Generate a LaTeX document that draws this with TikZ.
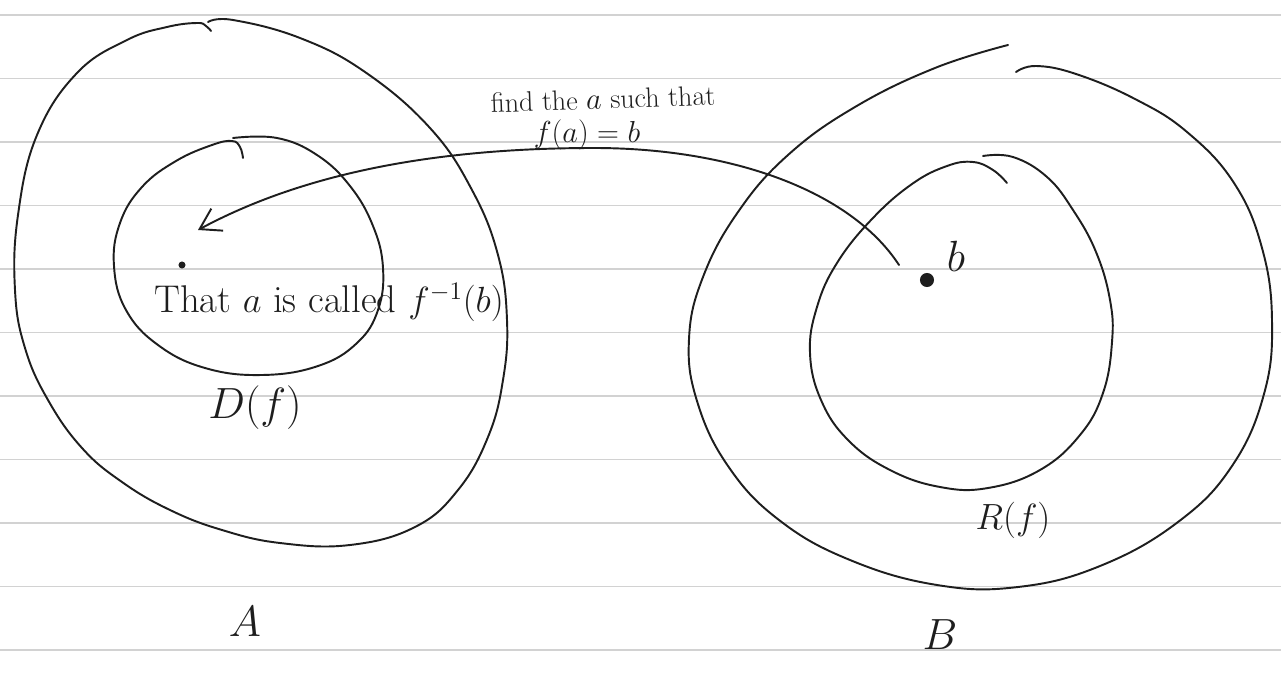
\documentclass[tikz,border=0pt]{standalone}
\usetikzlibrary{arrows.meta}
\definecolor{cink}{HTML}{1E1E1E}
\definecolor{cruled}{HTML}{D2D2D2}
\tikzset{
  pen/.style={draw=cink, line width=1.1pt, line cap=round, line join=round},
  ruled/.style={draw=cruled, line width=0.9pt},
  arrow/.style={pen, -{Straight Barb[length=4mm, width=5mm]}},
  hand/.style={text=cink, inner sep=0pt, font=\fontsize{#1}{#1}\selectfont},
  hand/.default=20,
  inkdot/.style={circle, fill=cink, inner sep=0pt, minimum size=#1},
}

\begin{document}
\begin{tikzpicture}[x=0.02cm, y=-0.02cm]
  \useasboundingbox (0,0) rectangle (1281,679);
  \fill[white] (0,0) rectangle (1281,679);
  % ruled paper
  \foreach \k in {0,...,10} {
    \draw[ruled] (0,15+63.5*\k) -- (1281,15+63.5*\k);
  }
  % set A and D(f)
  \draw[pen] plot[smooth, tension=0.7] coordinates {(208,22) (233,20) (300,38) (365,72) (430,128) (472,190) (498,255) (507,320) (503,380) (488,437) (458,490) (415,527) (350,545) (280,543) (222,530) (170,510) (122,482) (82,448) (48,400) (25,348) (15,290) (18,215) (37,135) (77,73) (127,40) (167,27) (197,23) (206,26) (211,31)};
  \draw[pen] plot[smooth, tension=0.7] coordinates {(233,138) (277,138) (317,155) (350,186) (373,226) (383,268) (378,310) (357,343) (318,366) (262,375) (205,368) (158,345) (126,310) (114,266) (120,223) (142,187) (176,161) (212,145) (232,141) (240,147) (243,158)};
  % set B and R(f)
  \draw[pen] plot[smooth, tension=0.7] coordinates {(1016,72) (1036,66) (1076,74) (1135,99) (1187,132) (1234,183) (1262,248) (1272,321) (1264,394) (1232,466) (1178,522) (1100,566) (1018,587) (937,585) (850,560) (779,520) (728,466) (697,401) (689,339) (703,277) (738,212) (788,155) (855,107) (935,68) (1008,45)};
  \draw[pen] plot[smooth, tension=0.7] coordinates {(983,156) (1013,157) (1047,177) (1073,210) (1096,252) (1110,300) (1112,342) (1103,393) (1080,435) (1040,470) (988,488) (940,487) (890,470) (848,440) (821,400) (810,353) (817,307) (837,263) (872,219) (912,184) (947,166) (973,162) (993,170) (1007,183)};
  % points
  \node[inkdot=4pt] (adot) at (182,265) {};
  \node[inkdot=8pt] (bdot) at (927,280) {};
  \node[hand=34] (lblb) at (956,256) {$b$};
  % the map back
  \coordinate (arrstart) at (899,265);
  \coordinate (arrend) at (198,230);
  \draw[arrow] (arrstart) .. controls (850,190) and (730,148) .. (594,148)
    .. controls (430,148) and (300,175) .. (arrend);
  % labels
  \node[hand=16, rotate=2] (lblfind) at (603,99) {find the $a$ such that};
  \node[hand=19] (lblfa) at (587,135) {$f(a) = b$};
  \node[hand=22] (lblcalled) at (329,302) {That $a$ is called $f^{-1}(b)$};
  \node[hand=24] (lblD) at (255,408) {$D(f)$};
  \node[hand=21] (lblR) at (1013,520) {$R(f)$};
  \node[hand=50] (lblA) at (245,622) {$A$};
  \node[hand=46] (lblB) at (940,635) {$B$};
\end{tikzpicture}
\end{document}
